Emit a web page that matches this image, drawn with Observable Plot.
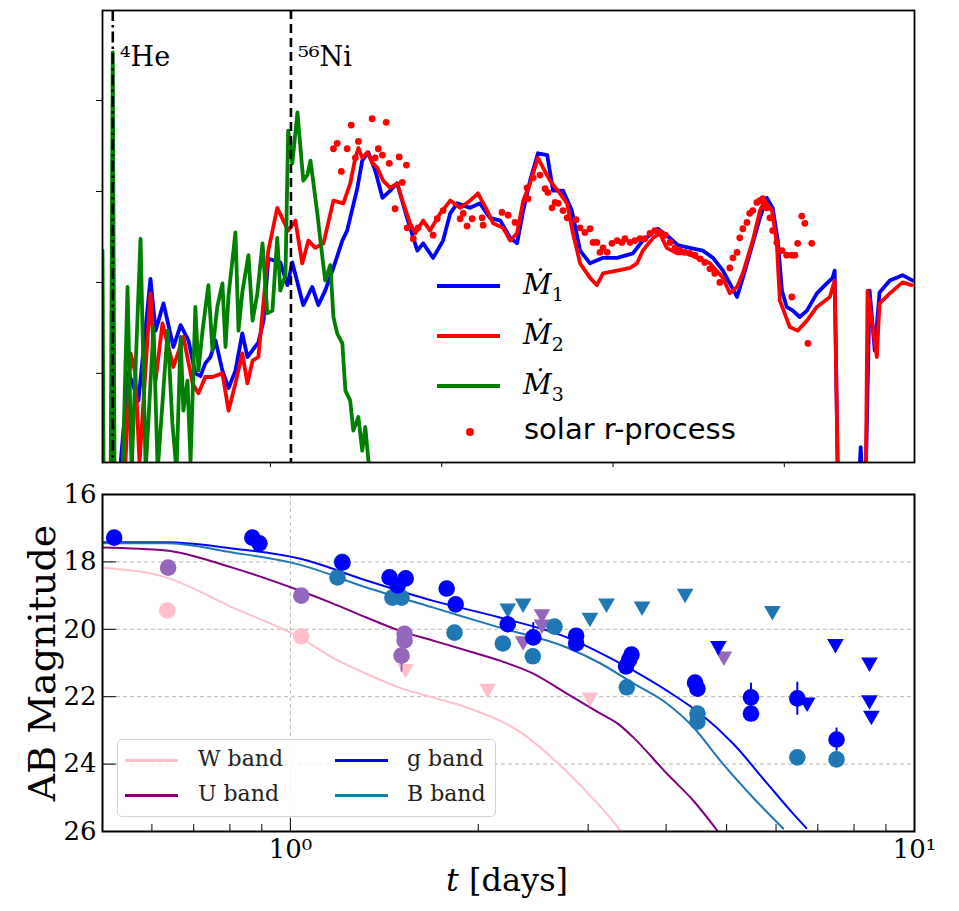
<!DOCTYPE html>
<html><head><meta charset="utf-8">
<script src="https://cdn.jsdelivr.net/npm/d3@7"></script>
<script src="https://cdn.jsdelivr.net/npm/@observablehq/plot@0.6"></script>
<style>
body{margin:0;background:#fff;}
#wrap{position:relative;width:959px;height:911px;overflow:hidden;}
#wrap svg{display:block;}
.abs{position:absolute;white-space:nowrap;line-height:1;}
.ln{position:absolute;height:0;}
</style></head><body><div id="wrap"></div>
<script>
// ---------- top panel: abundance pattern (mass number A, log abundance in decades) ----------
const m1 = [[1.3,0.02],[3.4,-0.1],[6.3,0.02],[8.6,1.01],[11.5,0.70],[15.0,2.04],[16.5,1.47],[18.8,1.77],[21.7,1.29],[23.8,1.53],[26.1,1.36],[28.1,1.00],[29.6,0.97],[31.0,1.11],[32.5,1.18],[34.0,1.36],[36.0,1.03],[37.8,0.84],[39.8,1.03],[41.8,1.44],[43.3,1.18],[46.5,1.34],[48.0,1.58],[49.4,2.26],[52.9,2.22],[55.0,1.97],[56.4,2.22],[59.6,1.75],[62.2,1.95],[64.0,1.75],[66.0,1.91],[68.4,2.16],[71.0,2.46],[72.4,2.57],[75.4,3.04],[76.8,3.34],[78.6,3.43],[80.6,3.23],[82.7,2.93],[85.0,3.01],[87.0,3.09],[89.9,2.71],[92.9,2.35],[94.6,2.43],[97.5,2.27],[100.4,2.46],[102.5,2.76],[104.5,2.87],[108.3,2.82],[111.2,2.87],[114.1,2.71],[117.1,2.68],[120.0,2.49],[122.0,2.43],[123.8,2.79],[125.8,3.12],[128.1,3.42],[130.8,3.40],[132.5,3.01],[135.4,3.01],[138.0,2.79],[140.4,2.35],[143.3,2.21],[147.1,2.27],[151.2,2.27],[155.8,2.32],[158.7,2.46],[163.1,2.59],[166.6,2.49],[168.9,2.41],[172.4,2.38],[176.2,2.35],[179.2,2.27],[182.1,2.13],[184.1,1.99],[186.2,1.84],[187.9,2.05],[190.8,2.43],[192.9,2.71],[194.9,2.93],[196.6,2.82],[198.1,2.46],[199.3,1.91],[200.7,1.73],[202.5,1.69],[204.5,1.62],[206.6,1.69],[209.5,1.88],[212.4,1.99],[214.1,2.05],[214.7,2.13],[215.6,-0.1],[221.9,-0.1],[222.3,0.19],[222.7,-0.1],[223.8,-0.1],[224.9,1.91],[226.4,1.25],[227.8,1.89],[230.8,2.02],[234.5,2.08],[237.5,2.02]];
const m2 = [[1.3,-0.07],[7.7,0.02],[9.2,1.22],[10.6,1.00],[11.8,0.02],[15.0,1.88],[16.5,0.92],[18.5,1.55],[21.7,1.07],[24.6,1.40],[27.3,0.89],[29.0,0.78],[31.0,0.96],[33.1,0.96],[36.0,1.00],[37.8,0.59],[39.8,0.89],[41.8,1.22],[43.3,0.89],[44.8,1.14],[46.5,1.18],[49.4,2.35],[52.0,2.82],[55.2,2.57],[57.3,2.68],[59.3,2.21],[61.1,2.46],[63.1,2.38],[65.5,2.43],[68.4,2.90],[71.3,2.87],[73.3,3.09],[74.8,3.37],[75.7,3.48],[76.8,3.37],[78.3,3.43],[79.7,3.32],[81.2,3.26],[82.9,3.12],[85.0,3.04],[87.0,3.09],[88.8,2.87],[90.8,2.65],[92.3,2.54],[94.6,2.68],[96.6,2.57],[99.6,2.76],[102.5,2.90],[105.4,2.82],[108.3,2.90],[110.6,2.98],[113.3,2.79],[115.0,2.65],[117.9,2.60],[120.0,2.46],[122.0,2.54],[123.8,2.90],[125.8,3.09],[128.1,3.37],[129.6,3.26],[131.6,3.12],[134.5,2.98],[136.6,2.87],[138.3,2.54],[140.4,2.21],[143.3,2.05],[145.3,1.97],[147.1,2.10],[151.2,2.13],[155.0,2.16],[157.0,2.21],[158.7,2.35],[161.7,2.49],[163.7,2.54],[165.7,2.38],[168.7,2.32],[171.6,2.32],[174.5,2.27],[178.3,2.21],[182.1,2.05],[184.1,1.88],[186.2,1.95],[187.9,2.10],[190.8,2.46],[192.9,2.79],[194.3,2.90],[196.4,2.79],[197.8,2.43],[198.7,1.80],[201.6,1.51],[203.9,1.47],[206.6,1.58],[209.5,1.73],[213.3,1.84],[214.7,2.02],[215.6,-0.1],[223.8,-0.1],[224.3,1.91],[227.0,1.18],[227.8,1.77],[230.8,1.88],[234.5,2.00],[237.2,1.97]];
const m3 = [[1.0,2.35],[1.3,-0.07],[3.4,-0.07],[4.0,4.53],[4.5,-0.07],[6.9,-0.07],[8.3,1.95],[9.5,-0.07],[12.1,2.48],[13.6,-0.07],[15.9,1.51],[17.1,-0.07],[20.0,1.47],[21.4,0.45],[22.6,-0.07],[23.8,1.40],[24.6,0.59],[25.8,0.92],[26.7,0.02],[28.1,1.73],[29.0,1.03],[30.2,1.47],[31.9,1.97],[33.1,1.25],[34.5,1.73],[36.0,1.99],[36.9,1.29],[37.8,1.86],[39.8,2.55],[40.7,1.47],[41.8,1.89],[43.6,2.30],[44.8,1.58],[46.2,1.88],[47.7,2.43],[49.1,1.66],[50.6,1.69],[52.0,2.49],[52.9,1.91],[54.4,2.08],[55.2,3.67],[56.4,3.31],[57.9,3.87],[59.6,3.12],[60.8,3.18],[61.7,3.34],[63.7,2.76],[64.6,2.46],[66.0,2.02],[67.5,2.19],[68.4,1.62],[69.5,1.44],[71.0,1.33],[71.9,0.81],[73.3,0.70],[74.2,0.37],[75.7,0.52],[76.8,0.15],[77.7,0.41],[78.9,-0.07]];
const solarR = [[68.4,3.47],[69.5,3.53],[70.7,3.22],[72.4,3.47],[73.6,3.73],[74.8,3.37],[75.7,3.55],[79.7,3.80],[80.6,3.37],[81.5,3.47],[82.7,3.40],[83.8,3.76],[84.7,3.31],[86.4,2.81],[87.6,3.38],[88.5,3.10],[89.7,3.29],[89.9,2.60],[91.7,2.48],[93.1,2.60],[97.5,2.52],[98.7,2.70],[100.4,2.79],[105.4,2.70],[106.3,2.76],[107.4,2.62],[108.9,2.70],[111.8,2.71],[112.1,2.63],[117.6,2.77],[119.4,2.74],[121.4,2.66],[124.9,3.04],[125.2,2.92],[126.7,3.15],[128.7,3.18],[130.2,3.03],[131.0,2.99],[132.2,2.82],[133.1,2.88],[134.0,2.87],[135.4,2.79],[136.6,2.71],[139.2,2.69],[140.4,2.60],[141.8,2.55],[143.3,2.59],[144.2,2.44],[145.3,2.44],[146.2,2.33],[147.1,2.38],[148.3,2.33],[149.7,2.43],[151.2,2.46],[152.6,2.44],[153.5,2.48],[155.0,2.44],[156.4,2.46],[157.9,2.48],[159.3,2.48],[160.8,2.54],[162.2,2.57],[163.7,2.55],[165.2,2.52],[166.6,2.44],[168.1,2.38],[169.5,2.35],[171.0,2.33],[172.4,2.32],[173.9,2.30],[175.4,2.26],[176.8,2.22],[178.3,2.15],[179.7,2.10],[181.2,2.00],[184.1,2.16],[185.0,2.27],[186.2,2.33],[187.0,2.49],[187.9,2.59],[189.1,2.66],[189.9,2.76],[190.8,2.79],[192.0,2.88],[192.9,2.90],[193.7,2.92],[194.9,2.82],[195.8,2.71],[196.6,2.57],[197.8,2.44],[199.3,2.35],[200.7,2.30],[202.2,2.30],[202.2,1.84],[203.1,2.30],[203.9,2.43],[205.1,2.73],[206.0,2.65],[206.9,1.33],[208.0,2.43]];
const heLine = [{A: 4, label: "⁴He"}];
const niLine = [{A: 56, label: "⁵⁶Ni"}];
const topXTicks = [50,100,150,200];
const topYTicks = [1,2,3,4];

// ---------- bottom panel: light curves (t in days, AB magnitude) ----------
const modelW = [[0.5,18.17],[0.632,18.46],[0.807,19.35],[1.034,20.24],[1.168,20.84],[1.324,21.32],[1.496,21.73],[1.69,22.02],[1.916,22.32],[2.165,22.71],[2.314,23.0],[2.653,23.89],[3.02,24.93],[3.31,25.76],[3.385,26.0]];
const modelU = [[0.5,17.57],[0.632,17.66],[0.807,18.17],[1.034,18.85],[1.168,19.23],[1.324,19.65],[1.496,20.04],[1.69,20.33],[1.916,20.63],[2.165,20.93],[2.446,21.31],[2.773,21.91],[3.13,22.49],[3.374,22.85],[3.54,23.2],[4.01,24.28],[4.42,25.08],[4.83,25.97]];
const modelG = [[0.5,17.42],[0.632,17.42],[0.807,17.6],[1.034,17.9],[1.324,18.55],[1.69,19.15],[2.165,19.65],[2.773,20.24],[3.13,20.69],[3.54,21.22],[4.01,21.82],[4.535,22.5],[5.12,23.39],[5.81,24.58],[6.39,25.47],[6.71,25.9]];
const modelB = [[0.5,17.45],[0.632,17.45],[0.807,17.72],[1.034,18.08],[1.324,18.76],[1.69,19.35],[2.165,19.95],[2.773,20.54],[3.13,21.0],[3.54,21.6],[4.01,22.2],[4.42,22.9],[4.88,23.89],[5.51,24.99],[6.16,25.91]];

const gDet = [[0.522,17.28],[0.869,17.28],[0.892,17.45],[1.212,18.02],[1.442,18.46],[1.485,18.70],[1.53,18.49],[1.78,18.79],[1.84,19.26],[2.23,19.85],[2.45,20.24],[2.87,20.19],[2.87,20.42],[3.45,21.1],[3.49,20.9],[3.52,20.75],[4.45,21.58],[4.49,21.76],[5.47,22.02],[5.47,22.5],[6.49,22.05],[7.5,23.27]];
const gLim = [[4.85,20.49],[6.73,22.17],[7.47,20.43],[8.47,20.98],[8.47,22.1],[8.53,22.56]];
const bDet = [[1.19,18.46],[1.21,18.0],[1.457,19.06],[1.507,19.06],[1.832,20.1],[2.19,20.42],[2.446,20.8],[2.65,19.92],[3.46,21.72],[4.49,22.5],[4.49,22.74],[6.49,23.8],[7.5,23.86]];
const bLim = [[2.23,19.38],[2.36,19.23],[3.02,19.65],[3.21,19.23],[3.66,19.32],[4.29,18.94],[5.92,19.45]];
const uDet = [[0.637,18.17],[1.041,19.0],[1.524,20.13],[1.524,20.33],[1.507,20.78]];
const uLim = [[2.36,20.35],[2.53,19.55],[2.53,19.85],[4.95,20.8]];
const wDet = [[0.635,19.44],[1.041,20.21]];
const wLim = [[1.53,21.17],[2.07,21.76],[3.02,22.02]];
const errG = [[1.212,17.87,18.19],[2.45,19.8,20.24],[5.47,21.6,22.4],[6.49,21.57,22.55],[7.5,22.93,23.6]];
const errB = [[7.5,23.6,24.1]];
const errU = [[1.507,20.62,21.27]];
const magTicks = [16,18,20,22,24,26];
const magGrid = [18,20,22,24];
const tMajor = [1,10];
const tMinor = [0.6,0.7,0.8,0.9,2,3,4,5,6,7,8,9];

const C = {W:"pink", U:"purple", g:"blue", B:"#1f77b4", Upt:"#9467bd", red:"red", green:"green"};
const X = d => d[0], Y = d => d[1];

const wrap = document.getElementById("wrap");
const labelStyle = {frameAnchor: "top", dy: 36, dx: 7, textAnchor: "start", fontSize: 27, fontFamily: "DejaVu Serif", fill: "black"};

const topPlot = Plot.plot({
  width: 959, height: 470,
  marginLeft: 102, marginRight: 45, marginTop: 10, marginBottom: 8,
  style: {background: "white", overflow: "visible"},
  x: {type: "linear", domain: [1, 238]},
  y: {domain: [0.02, 4.99]},
  marks: [
    Plot.line(m1, {x: X, y: Y, stroke: C.g, strokeWidth: 3.8, clip: true}),
    Plot.line(m2, {x: X, y: Y, stroke: C.red, strokeWidth: 3.8, clip: true}),
    Plot.line(m3, {x: X, y: Y, stroke: C.green, strokeWidth: 3.8, clip: true}),
    Plot.dot(solarR, {x: X, y: Y, fill: C.red, r: 3.4, clip: true}),
    Plot.ruleX(heLine, {x: "A", stroke: "black", strokeWidth: 2.6, strokeDasharray: "11,4,2.5,4"}),
    Plot.ruleX(niLine, {x: "A", stroke: "black", strokeWidth: 2.6, strokeDasharray: "9,5"}),
    Plot.text(heLine, {x: "A", text: "label", ...labelStyle}),
    Plot.text(niLine, {x: "A", text: "label", ...labelStyle}),
    Plot.axisX({ticks: topXTicks, tickSize: 5, tickFormat: () => "", label: null}),
    Plot.axisY({ticks: topYTicks, tickSize: 6, tickFormat: () => "", label: null}),
    Plot.frame({stroke: "black", strokeWidth: 1.8})
  ]
});

const botPlot = Plot.plot({
  width: 959, height: 441,
  marginLeft: 102, marginRight: 45, marginTop: 24, marginBottom: 80,
  style: {background: "white", overflow: "visible"},
  x: {type: "log", domain: [0.5, 10]},
  y: {domain: [16, 26], reverse: true},
  marks: [
    Plot.gridY({ticks: magGrid, stroke: "#b8b8b8", strokeOpacity: 1, strokeDasharray: "4,3", strokeWidth: 1}),
    Plot.gridX({ticks: [1], stroke: "#b8b8b8", strokeOpacity: 1, strokeDasharray: "4,3", strokeWidth: 1}),
    Plot.line(modelW, {x: X, y: Y, stroke: C.W, strokeWidth: 2, curve: "monotone-x", clip: true}),
    Plot.line(modelU, {x: X, y: Y, stroke: C.U, strokeWidth: 2, curve: "monotone-x", clip: true}),
    Plot.line(modelG, {x: X, y: Y, stroke: C.g, strokeWidth: 2, curve: "monotone-x", clip: true}),
    Plot.line(modelB, {x: X, y: Y, stroke: C.B, strokeWidth: 2, curve: "monotone-x", clip: true}),
    Plot.dot(wDet, {x: X, y: Y, fill: C.W, r: 8.3}),
    Plot.dot(wLim, {x: X, y: Y, fill: C.W, symbol: "triangle", rotate: 180, r: 6.2}),
    Plot.dot(uDet, {x: X, y: Y, fill: C.Upt, r: 8.3}),
    Plot.dot(uLim, {x: X, y: Y, fill: C.Upt, symbol: "triangle", rotate: 180, r: 6.2}),
    Plot.ruleX(errU, {x: X, y1: d => d[1], y2: d => d[2], stroke: C.Upt, strokeWidth: 2}),
    Plot.dot(bDet, {x: X, y: Y, fill: C.B, r: 8.3}),
    Plot.dot(bLim, {x: X, y: Y, fill: C.B, symbol: "triangle", rotate: 180, r: 6.2}),
    Plot.ruleX(errB, {x: X, y1: d => d[1], y2: d => d[2], stroke: C.B, strokeWidth: 2}),
    Plot.dot(gDet, {x: X, y: Y, fill: C.g, r: 8.3}),
    Plot.dot(gLim, {x: X, y: Y, fill: C.g, symbol: "triangle", rotate: 180, r: 6.2}),
    Plot.ruleX(errG, {x: X, y1: d => d[1], y2: d => d[2], stroke: C.g, strokeWidth: 2}),
    Plot.axisY({ticks: magTicks, tickSize: 0, tickPadding: 6, tickFormat: d => String(d), fontSize: 26, fontFamily: "DejaVu Serif", fill: "black", label: null}),
    Plot.axisY({ticks: magTicks, tickSize: -14, tickFormat: () => "", label: null}),
    Plot.axisX({ticks: tMajor, tickSize: 0, tickPadding: 8, tickFormat: d => d === 1 ? "10⁰" : "10¹", fontSize: 26, fontFamily: "DejaVu Serif", fill: "black", label: null}),
    Plot.axisX({ticks: tMajor, tickSize: -13, tickFormat: () => "", label: null}),
    Plot.axisX({ticks: tMinor, tickSize: -7, tickFormat: () => "", label: null}),
    Plot.text(["AB Magnitude"], {text: d => d, frameAnchor: "left", textAnchor: "middle", rotate: -90, dx: -60, fontSize: 38, fontFamily: "DejaVu Serif", fill: "black"}),
    Plot.frame({stroke: "black", strokeWidth: 2})
  ]
});

wrap.appendChild(topPlot);
wrap.appendChild(botPlot);

// ---------- legends & x label (HTML overlays) ----------
function addLine(x, y, w, color, h) {
  const d = document.createElement("div");
  d.className = "ln";
  d.style.cssText = `left:${x}px;top:${y - h/2}px;width:${w}px;border-top:${h}px solid ${color};`;
  wrap.appendChild(d);
}
function addText(x, y, html, css) {
  const d = document.createElement("div");
  d.className = "abs";
  d.style.cssText = `left:${x}px;top:${y}px;${css}`;
  d.innerHTML = html;
  wrap.appendChild(d);
  return d;
}
const sub = n => `<i>Ṁ</i><sub style='font-size:19px;font-style:normal'>${n}</sub>`;
const topLegend = [
  {color: C.g, label: sub(1)},
  {color: C.red, label: sub(2)},
  {color: C.green, label: sub(3)}
];
topLegend.forEach((e, i) => {
  addLine(437, 286 + 50 * i, 63, e.color, 4.5);
  addText(523, 271 + 50 * i, e.label, "font-family:'DejaVu Serif',serif;font-size:28px;color:#000;");
});
const dot = document.createElement("div");
dot.style.cssText = "position:absolute;left:466px;top:428px;width:8px;height:8px;border-radius:50%;background:red;";
wrap.appendChild(dot);
addText(524, 415, "solar r-process", "font-family:'DejaVu Sans',sans-serif;font-size:29px;color:#000;");

const box = document.createElement("div");
box.style.cssText = "position:absolute;left:117px;top:739px;width:379px;height:78px;border:1.5px solid #d4d4d4;border-radius:5px;background:rgba(255,255,255,0.8);box-sizing:border-box;";
wrap.appendChild(box);
const botLegend = [
  {color: C.W, label: "W band", col: 0, row: 0},
  {color: C.U, label: "U band", col: 0, row: 1},
  {color: C.g, label: "g band", col: 1, row: 0},
  {color: C.B, label: "B band", col: 1, row: 1}
];
botLegend.forEach(e => {
  const lx = e.col ? 335 : 125, tx = e.col ? 407 : 198, cy = e.row ? 795 : 760;
  addLine(lx, cy, 53, e.color, 3);
  addText(tx, cy - 12, e.label, "font-family:'DejaVu Serif',serif;font-size:22px;color:#222;");
});

const xl = addText(507, 864, "<i>t</i> [days]", "font-family:'DejaVu Serif',serif;font-size:32px;color:#000;transform:translateX(-50%);");
</script></body></html>
